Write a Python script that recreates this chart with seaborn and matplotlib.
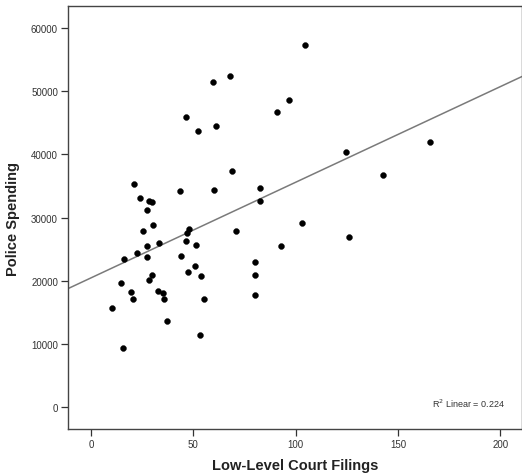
import matplotlib
matplotlib.use("Agg")
import matplotlib.pyplot as plt
import pandas as pd
import seaborn as sns

# values
court_filings = [104.5, 68.1, 59.6, 96.8, 91.1, 46.4, 61.3, 52.4, 165.6, 124.8,
                 68.7, 142.6, 82.5, 21.2, 43.3, 60.0, 24.0, 28.2, 29.8, 82.7,
                 27.6, 103.1, 30.3, 25.4, 48.0, 47.0, 71.0, 125.9, 46.2, 33.4,
                 27.6, 51.2, 93.0, 22.4, 27.4, 44.1, 16.2, 79.9, 50.9, 47.5,
                 79.9, 29.8, 54.0, 28.2, 14.6, 19.8, 32.6, 35.3, 79.9, 20.7,
                 35.8, 55.4, 10.5, 37.3, 53.3, 15.7]
police_spending = [57364, 52355, 51458, 48611, 46660, 45922, 44551, 43760, 41915, 40386,
                   37328, 36695, 34692, 35272, 34270, 34375, 33058, 32636, 32530, 32636,
                   31212, 29156, 28892, 27838, 28207, 27575, 27838, 26994, 26362, 25993,
                   25465, 25623, 25465, 24358, 23831, 23936, 23515, 22935, 22355, 21458,
                   20931, 20984, 20773, 20140, 19718, 18242, 18453, 18137, 17768, 17082,
                   17082, 17135, 15659, 13603, 11441, 9332]
x_ticks = [0, 50, 100, 150, 200]
y_ticks = [0, 10000, 20000, 30000, 40000, 50000, 60000]

df = pd.DataFrame({"Low-Level Court Filings": court_filings,
                   "Police Spending": police_spending})

sns.set_style("ticks")
plt.rcParams["font.family"] = ["Liberation Sans", "DejaVu Sans"]

fig = plt.figure(figsize=(5.22, 4.77), dpi=100)
ax = fig.add_axes([0.131, 0.0985, 0.869, 0.886])
ax.set_xlim(-11, 210.5)
ax.set_ylim(-3430, 63430)

sns.regplot(data=df, x="Low-Level Court Filings", y="Police Spending", ax=ax,
            scatter=False, ci=None, truncate=False,
            line_kws={"color": "#7a7a7a", "linewidth": 1.1})
sns.scatterplot(data=df, x="Low-Level Court Filings", y="Police Spending", ax=ax,
                color="black", s=18, edgecolor="black", linewidth=0.3, zorder=3)

ax.set_xlim(-11, 210.5)
ax.set_ylim(-3430, 63430)
ax.set_xticks(x_ticks)
ax.set_yticks(y_ticks)
ax.tick_params(axis="both", labelsize=7, colors="#333333", length=5, width=0.9, pad=2.5)
for side in ["left", "bottom", "top", "right"]:
    ax.spines[side].set_color("#444444")
    ax.spines[side].set_linewidth(1.0)

ax.set_xlabel("Low-Level Court Filings", fontsize=10.5, fontweight="bold",
              color="#222222", labelpad=6)
ax.set_ylabel("Police Spending", fontsize=10.5, fontweight="bold",
              color="#222222", labelpad=8)

ax.text(0.963, 0.062, "R$^2$ Linear = 0.224", transform=ax.transAxes,
        ha="right", va="center", fontsize=6.5, color="#333333")

fig.savefig("out.png", dpi=100)
